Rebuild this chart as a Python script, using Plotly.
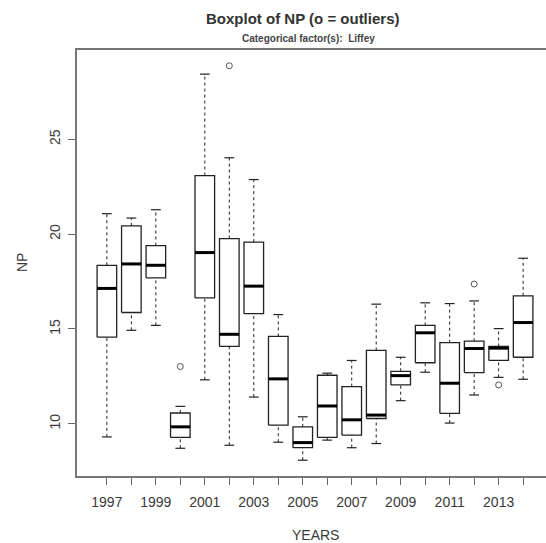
import plotly.graph_objects as go

# Summary statistics of NP by year (Liffey)
years = list(range(1997, 2015))
lower_whisker = [9.31, 14.93, 15.19, 8.71, 12.32, 8.87, 11.41, 9.03, 8.08,
                 9.14, 8.74, 8.96, 11.22, 12.72, 10.04, 11.52, 12.45, 12.35]
q1 = [14.57, 15.87, 17.70, 9.28, 16.64, 14.08, 15.81, 9.93, 8.74,
      9.28, 9.40, 10.28, 12.05, 13.22, 10.55, 12.70, 13.34, 13.51]
median = [17.14, 18.43, 18.36, 9.84, 19.03, 14.72, 17.26, 12.37, 9.01,
          10.94, 10.21, 10.46, 12.54, 14.80, 12.14, 13.97, 13.99, 15.34]
q3 = [18.36, 20.44, 19.40, 10.57, 23.09, 19.77, 19.58, 14.61, 9.84,
      12.56, 11.96, 13.87, 12.77, 15.19, 14.28, 14.36, 14.08, 16.75]
upper_whisker = [21.08, 20.85, 21.29, 10.92, 28.44, 24.03, 22.88, 15.76, 10.37,
                 12.67, 13.34, 16.31, 13.51, 16.38, 16.34, 16.48, 15.02, 18.73]
outlier_years = [2000, 2002, 2012, 2013]
outlier_values = [13.02, 28.88, 17.37, 12.05]

y_ticks = [10, 15, 20, 25]
x_tick_labels = [str(y) if (y - 1997) % 2 == 0 else "" for y in years]

BOX_HALF = 0.4      # boxwex 0.8
CAP_HALF = 0.2      # staplewex 0.5

box_x, box_y = [], []
med_x, med_y = [], []
wh_x, wh_y = [], []
cap_x, cap_y = [], []
for x, lo, a, m, b, hi in zip(years, lower_whisker, q1, median, q3, upper_whisker):
    box_x += [x - BOX_HALF, x + BOX_HALF, x + BOX_HALF, x - BOX_HALF, x - BOX_HALF, None]
    box_y += [a, a, b, b, a, None]
    med_x += [x - BOX_HALF, x + BOX_HALF, None]
    med_y += [m, m, None]
    wh_x += [x, x, None, x, x, None]
    wh_y += [lo, a, None, b, hi, None]
    cap_x += [x - CAP_HALF, x + CAP_HALF, None, x - CAP_HALF, x + CAP_HALF, None]
    cap_y += [lo, lo, None, hi, hi, None]

fig = go.Figure()
fig.add_trace(go.Scatter(x=wh_x, y=wh_y, mode="lines",
                         line=dict(color="#222", width=1, dash="3px,3px"),
                         hoverinfo="skip"))
fig.add_trace(go.Scatter(x=cap_x, y=cap_y, mode="lines",
                         line=dict(color="#222", width=1.2), hoverinfo="skip"))
fig.add_trace(go.Scatter(x=box_x, y=box_y, mode="lines",
                         line=dict(color="#222", width=1.3), hoverinfo="skip"))
fig.add_trace(go.Scatter(x=med_x, y=med_y, mode="lines",
                         line=dict(color="#000", width=3), hoverinfo="skip"))
fig.add_trace(go.Scatter(x=outlier_years, y=outlier_values, mode="markers",
                         marker=dict(symbol="circle-open", size=6,
                                     color="#555", line=dict(width=1)),
                         hoverinfo="skip"))

# R-style axis extents: 4% padding around data / box slots
lo_all = min(lower_whisker + outlier_values)
hi_all = max(upper_whisker + outlier_values)
span = hi_all - lo_all
y_range = [lo_all - 0.04 * span, hi_all + 0.04 * span]

W, H = 546, 543
ML, MR, MT, MB = 77, 0, 50, 67
x_left = years[0] - 1 + 0.5 - 0.04 * len(years)
x_full = len(years) * 1.08
plot_px_full = 476.0
x_right = x_left + x_full * (W - ML - MR) / plot_px_full

font_family = "Liberation Sans, Arial, sans-serif"
txt = "#3a3a3a"

fig.update_layout(
    width=W, height=H,
    margin=dict(l=ML, r=MR, t=MT, b=MB),
    paper_bgcolor="white", plot_bgcolor="white",
    showlegend=False,
    font=dict(family=font_family, size=14, color=txt),
    xaxis=dict(range=[x_left, x_right], tickmode="array", tickvals=years,
               ticktext=x_tick_labels, ticks="outside", ticklen=7,
               tickcolor="#666", tickwidth=1.2, ticklabelstandoff=5,
               showline=True, linecolor="#777", linewidth=1.5, mirror=True,
               showgrid=False, zeroline=False,
               tickfont=dict(size=14, color=txt)),
    yaxis=dict(range=y_range, tickmode="array", tickvals=y_ticks,
               ticks="outside", ticklen=7, tickcolor="#666", tickwidth=1.2,
               tickangle=-90, ticklabelstandoff=3,
               showline=True, linecolor="#777", linewidth=1.5, mirror=False,
               showgrid=False, zeroline=False,
               tickfont=dict(size=14, color=txt)),
)

plot_w = W - ML - MR
plot_h = H - MT - MB


def px_x(p):
    return (p - ML) / plot_w


def px_y(p):
    return (H - MB - p) / plot_h


fig.add_annotation(text="<b>Boxplot of NP (o = outliers)</b>",
                   x=px_x(302), y=px_y(19), xref="paper", yref="paper",
                   showarrow=False, font=dict(size=15, color="#333"),
                   xanchor="center", yanchor="middle")
fig.add_annotation(text="<b>Categorical factor(s):  Liffey</b>",
                   x=px_x(308), y=px_y(38), xref="paper", yref="paper",
                   showarrow=False, font=dict(size=10, color="#444"),
                   xanchor="center", yanchor="middle")
fig.add_annotation(text="YEARS", x=px_x(315), y=px_y(535),
                   xref="paper", yref="paper", showarrow=False,
                   font=dict(size=14, color=txt),
                   xanchor="center", yanchor="middle")
fig.add_annotation(text="NP", x=px_x(22), y=px_y(263),
                   xref="paper", yref="paper", showarrow=False, textangle=-90,
                   font=dict(size=14, color=txt),
                   xanchor="center", yanchor="middle")

fig.write_html("out.html")
